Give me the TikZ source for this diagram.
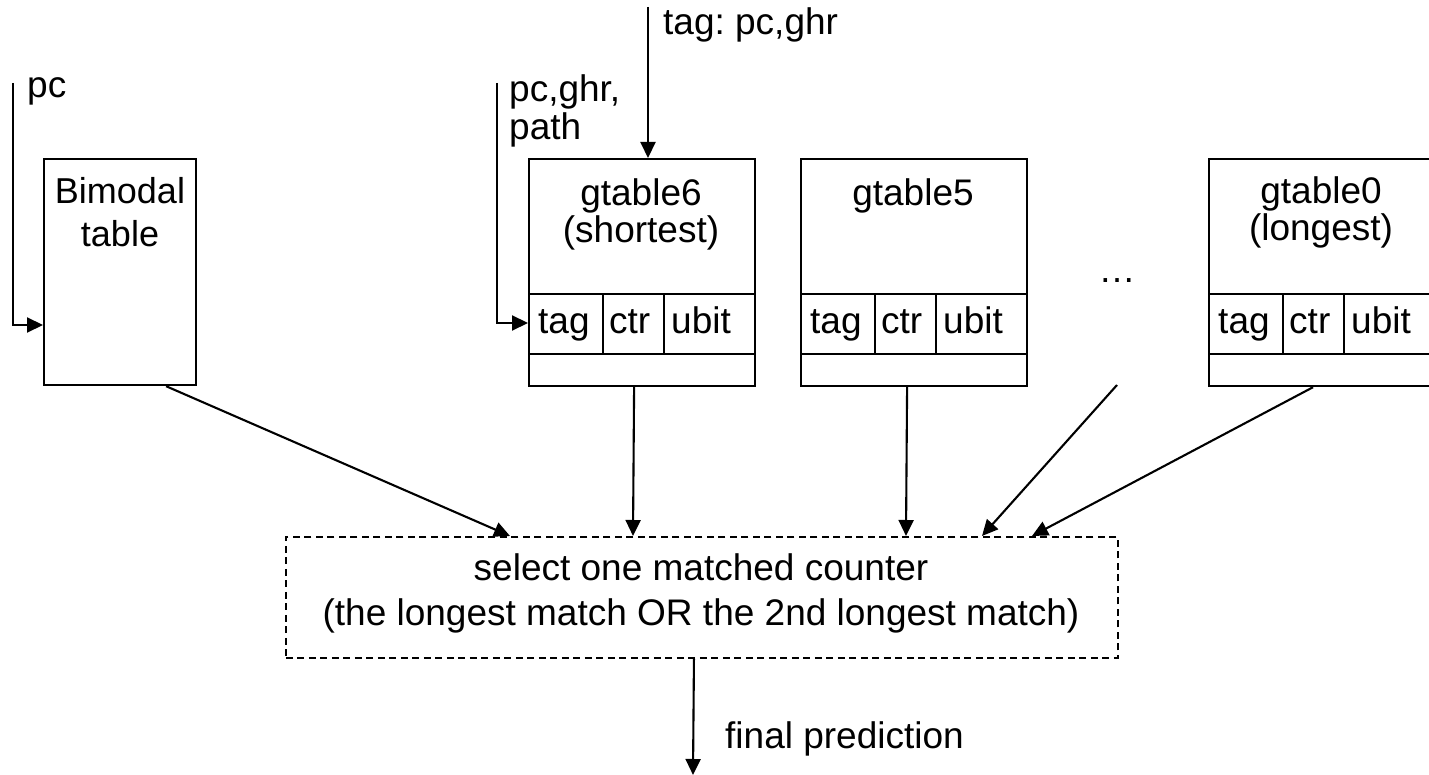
\documentclass[tikz,border=0pt]{standalone}
\usepackage{fontspec}
\setmainfont{Liberation Sans}
\usetikzlibrary{arrows.meta,calc}
\frenchspacing
\tikzset{
  box/.style={draw, line width=2.2pt, inner sep=0pt, anchor=north west},
  cellline/.style={line width=2.2pt},
  arr/.style={line width=2.1pt, -{Triangle[length=16pt,width=15pt]}},
  txt/.style={inner sep=0pt, font=\fontsize{37}{39}\selectfont},
  bimtxt/.style={inner sep=0pt, font=\fontsize{36}{38}\selectfont},
  seldash/.style={draw, line width=1.9pt, dash pattern=on 7pt off 4.5pt, inner sep=0pt, anchor=north west},
}
\begin{document}
\begin{tikzpicture}[x=1pt,y=-1pt]
\useasboundingbox (0,0) rectangle (1429,775);

% Bimodal table
\node[box, minimum width=152pt, minimum height=226pt] (bim) at (43,158) {};
\node[bimtxt, anchor=base] (bimA) at (120,204) {Bimodal};
\node[bimtxt, anchor=base] (bimB) at (120,247) {table};

% gtables
\foreach \nm/\x in {g6/528, g5/800, g0/1208}{
  \node[box, minimum width=226pt, minimum height=227pt] (\nm) at (\x,158) {};
  \draw[cellline] (\x,294) -- ++(226,0);
  \draw[cellline] (\x,354) -- ++(226,0);
  \draw[cellline] (\x+75,294) -- (\x+75,354);
  \draw[cellline] (\x+136,294) -- (\x+136,354);
  \node[txt, anchor=base west] (\nm tag) at (\x+10,334) {tag};
  \node[txt, anchor=base west] (\nm ctr) at (\x+81,334) {ctr};
  \node[txt, anchor=base west] (\nm ubit) at (\x+143,334) {ubit};
}
\node[txt, anchor=base] (g6A) at (641,206) {gtable6};
\node[txt, anchor=base] (g6B) at (641,243) {(shortest)};
\node[txt, anchor=base] (g5A) at (913,206) {gtable5};
\node[txt, anchor=base] (g0A) at (1321,204) {gtable0};
\node[txt, anchor=base] (g0B) at (1321,241) {(longest)};

\node[txt, anchor=base] (dots) at (1117,283) {…};

% selector
\node[seldash, minimum width=832pt, minimum height=121pt] (sel) at (285,536) {};
\node[txt, anchor=base] (selA) at (701,580) {select one matched counter};
\node[txt, anchor=base] (selB) at (701,625) {(the longest match OR the 2nd longest match)};

% inputs
\coordinate (pcin) at (13,83);
\coordinate (bimin) at (43,325);
\node[txt, anchor=base west] (pclab) at (27,98) {pc};
\draw[arr] (pcin) |- (bimin);

\coordinate (g6in) at (497,83);
\coordinate (g6tagin) at (528,323);
\node[txt, anchor=base west] (g6labA) at (509,102) {pc,ghr,};
\node[txt, anchor=base west] (g6labB) at (509,140) {path};
\draw[arr] (g6in) |- (g6tagin);

\coordinate (tagin) at (648,7);
\node[txt, anchor=base west] (taglab) at (663,35) {tag: pc,ghr};
\draw[arr] (tagin) -- (tagin |- g6.north);

% outputs
\coordinate (dotsout) at (1117,385);
\draw[arr] ([xshift=46pt]bim.south) -- ([xshift=225pt]sel.north west);
\draw[arr] ([xshift=-8pt]g6.south) -- ([xshift=348pt]sel.north west);
\draw[arr] ([xshift=-7pt]g5.south) -- ([xshift=621pt]sel.north west);
\draw[arr] (dotsout) -- ([xshift=697pt]sel.north west);
\draw[arr] ([xshift=105pt]g0.south west) -- ([xshift=747pt]sel.north west);

\coordinate (finalout) at (693,775);
\draw[arr] ([xshift=-8pt]sel.south) -- (finalout);
\node[txt, anchor=base west] (finlab) at (725,748) {final prediction};
\end{tikzpicture}
\end{document}
